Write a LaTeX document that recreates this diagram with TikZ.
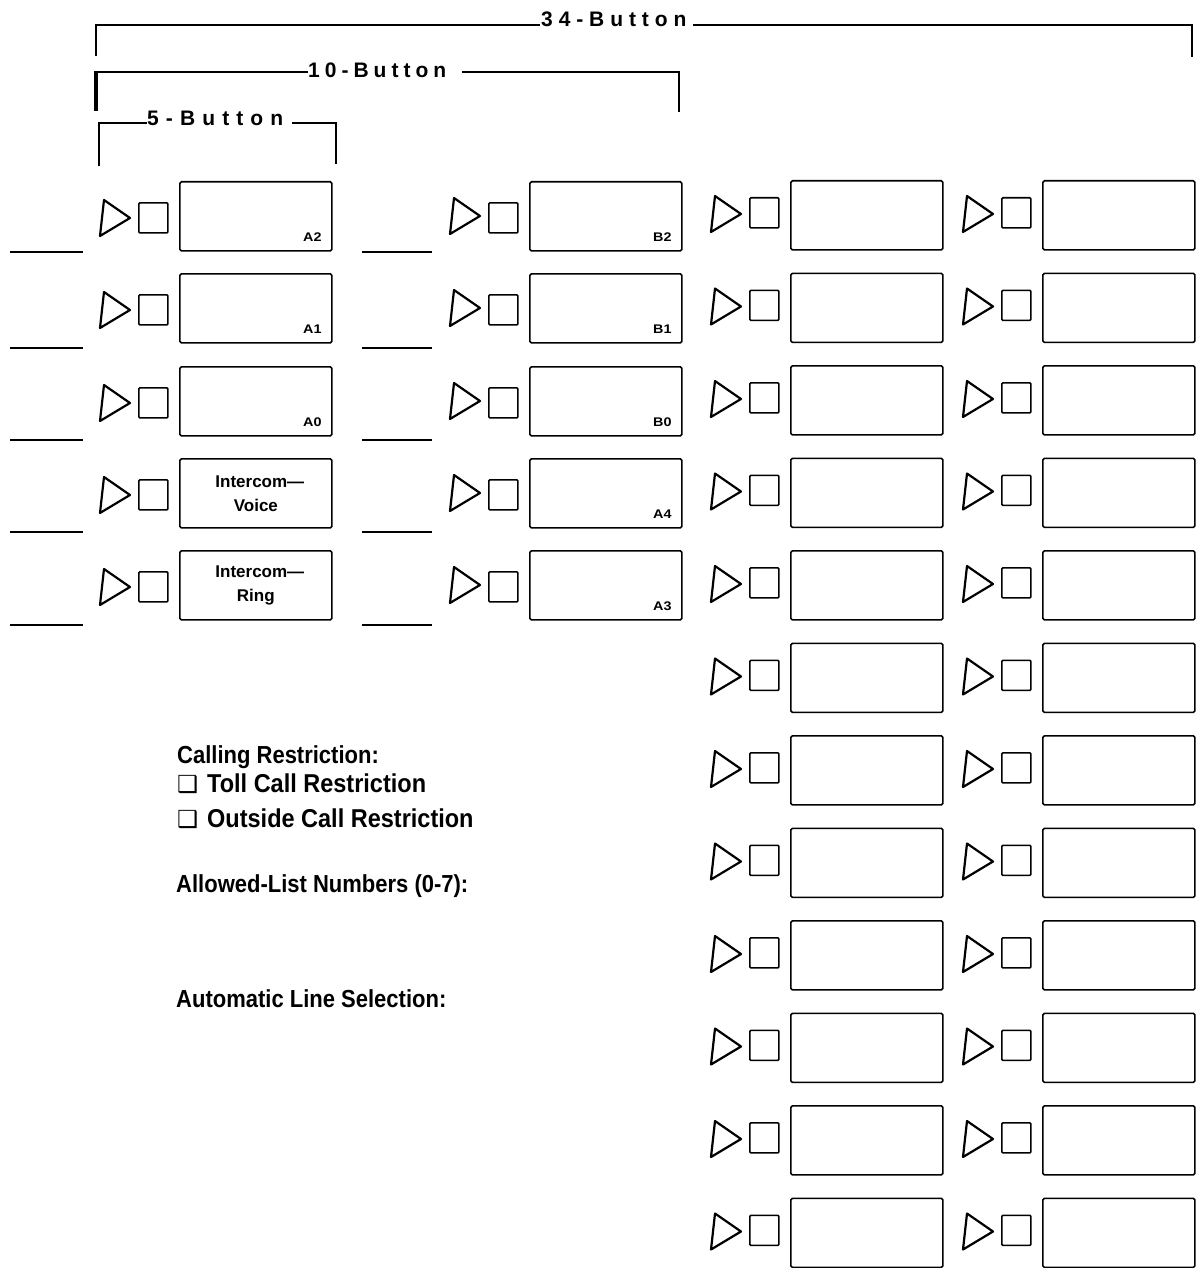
\documentclass[tikz,border=0pt]{standalone}
\usepackage{fontspec}
\setmainfont{Liberation Sans}
\newfontfamily\djv{DejaVu Sans}
\usetikzlibrary{calc}
\newcommand\kgA{\kern5.9pt}
\newcommand\kgB{\kern5.0pt}
\newcommand\kgC{\kern7.1pt}
\tikzset{
 btnbox/.style={draw, line width=1.7pt, rounded corners=1.5pt, minimum width=152pt, minimum height=69pt, inner sep=0pt, anchor=north west, align=center, font=\bfseries\fontsize{17}{24}\selectfont},
 lamp/.style={draw, line width=1.7pt, rounded corners=1pt, minimum width=29pt, minimum height=30pt, inner sep=0pt, anchor=north west},
 tri/.style={line width=2.2pt, line join=round},
 wline/.style={line width=2.8pt},
 brk/.style={line width=2.4pt},
 lbl/.style={anchor=base east, inner sep=0pt, font=\bfseries\fontsize{12.5}{14}\selectfont},
 ttl/.style={anchor=base west, inner sep=0pt, font=\bfseries\fontsize{21}{25}\selectfont},
 info/.style={anchor=base west, inner sep=0pt, font=\bfseries\fontsize{22}{26}\selectfont},
 infob/.style={anchor=base west, inner sep=0pt, font=\bfseries\fontsize{23.5}{28}\selectfont},
}
\newcommand\btn[6]{%
  \node[btnbox] (#1) at (#2,#3) {#6};
  \node[lamp] (#1l) at (#2-41,#3+#5) {};
  \draw[tri] (#2-75,#3+#4) -- (#2-49,#3+#4+18) -- (#2-79,#3+#4+36) -- cycle;
}
\begin{document}
\begin{tikzpicture}[x=1pt,y=-1pt]
\useasboundingbox (0,0) rectangle (1197,1268);
% brackets
\node[ttl] (t34) at (541,27) {3\kgA 4\kgA -\kgA B\kgA u\kgA t\kgA t\kgA o\kgA n};
\draw[brk] (96,56) -- (96,25) -- (540,25);
\draw[brk] (693,25) -- (1192,25) -- (1192,57);
\node[ttl] (t10) at (308,78) {1\kgB 0\kgB -\kgB B\kgB u\kgB t\kgB t\kgB o\kgB n};
\draw[brk] (96,72) -- (308,72);
\draw[line width=3.6pt] (96,71) -- (96,111);
\draw[brk] (462,72) -- (679,72) -- (679,112);
\node[ttl] (t5) at (147,126) {5\kgC -\kgC B\kgC u\kgC t\kgC t\kgC o\kgC n};
\draw[brk] (99,166) -- (99,123) -- (147,123);
\draw[brk] (292,123) -- (336,123) -- (336,164);
% column 1 and 2
\btn{A2}{179}{181}{19}{21}{}
\btn{A1}{179}{273}{19}{21}{}
\btn{A0}{179}{366}{19}{21}{}
\btn{IV}{179}{458}{19}{21}{\hspace*{8pt}Intercom—\\Voice}
\btn{IR}{179}{550}{19}{21}{\hspace*{8pt}Intercom—\\Ring}
\btn{B2}{529}{181}{17}{21}{}
\btn{B1}{529}{273}{17}{21}{}
\btn{B0}{529}{366}{17}{21}{}
\btn{A4}{529}{458}{17}{21}{}
\btn{A3}{529}{550}{17}{21}{}
\foreach \n in {A2,A1,A0,B2,B1,B0,A4,A3}{
  \node[lbl] at ($(\n.south east)+(-11,-10)$) {\scalebox{1.15}[1]{\n}};
}
% column 3 and 4
\foreach \i in {0,...,11}{
  \pgfmathsetmacro\yy{180+92.5*\i}
  \btn{c\i}{790}{\yy}{16}{17}{}
  \btn{d\i}{1042}{\yy}{16}{17}{}
}
% write-in lines
\foreach \yy in {252,348,440,532,625}{
  \draw[wline] (10,\yy) -- (83,\yy);
  \draw[wline] (362,\yy) -- (432,\yy);
}
% info text
\node[info] (cr) at (177,763) {\scalebox{1}[1.12]{Calling Restriction:}};
\node[infob] (cb1) at (177,792) {\djv ❑};
\node[infob] (tc) at (207,792) {\scalebox{1}[1.1]{Toll Call Restriction}};
\node[infob] (cb2) at (177,827) {\djv ❑};
\node[infob] (oc) at (207,827) {\scalebox{1}[1.1]{Outside Call Restriction}};
\node[info] (al) at (176,892) {\scalebox{1}[1.12]{Allowed-List Numbers (0-7):}};
\node[info] (ls) at (176,1007) {\scalebox{1}[1.12]{Automatic Line Selection:}};
\end{tikzpicture}
\end{document}
